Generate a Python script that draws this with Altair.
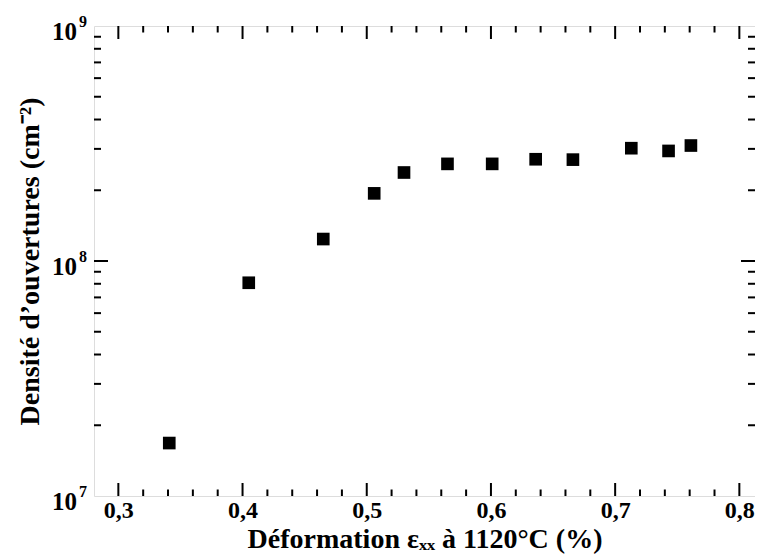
import altair as alt
import pandas as pd

# data
strain = [0.341, 0.405, 0.465, 0.506, 0.530, 0.565, 0.601, 0.636, 0.666, 0.713, 0.743, 0.761]
density = [1.68e7, 8.08e7, 1.24e8, 1.94e8, 2.38e8, 2.59e8, 2.59e8, 2.71e8, 2.70e8, 3.02e8, 2.94e8, 3.10e8]

x_major = [0.3, 0.4, 0.5, 0.6, 0.7, 0.8]
x_minor = [0.32, 0.34, 0.36, 0.38, 0.42, 0.44, 0.46, 0.48, 0.52, 0.54, 0.56, 0.58,
           0.62, 0.64, 0.66, 0.68, 0.72, 0.74, 0.76, 0.78]
y_major = [1e8]
y_minor = [2e7, 3e7, 4e7, 5e7, 6e7, 7e7, 8e7, 9e7, 2e8, 3e8, 4e8, 5e8, 6e8, 7e8, 8e8, 9e8]
y_label_vals = [1e7, 1e8, 1e9]
y_label_exp = ["7", "8", "9"]

W, H = 661, 470
FONT = "Liberation Serif"

xscale = alt.Scale(domain=[0.2804, 0.8126], nice=False, zero=False)
yscale = alt.Scale(type="log", domain=[1e7, 1e9], nice=False)

xaxis = alt.Axis(
    title="Déformation εₓₓ à 1120°C (%)",
    values=x_major,
    labelExpr="replace(format(datum.value, '.1f'), '.', ',')",
    ticks=False, domain=False, grid=False,
    labelFont=FONT, labelFontSize=24, labelFontWeight="bold", labelColor="black",
    labelPadding=2,
    titleFont=FONT, titleFontSize=28, titleFontWeight="bold", titleColor="black",
    titlePadding=3,
)
yaxis = alt.Axis(
    title="Densité d’ouvertures (cm⁻²)",
    labels=False, ticks=False, domain=False, grid=False,
    titleFont=FONT, titleFontSize=28, titleFontWeight="bold", titleColor="black",
    titlePadding=50,
)

pts = pd.DataFrame({"x": strain, "y": density})
points = alt.Chart(pts).mark_square(size=160, color="black", opacity=1, filled=True).encode(
    x=alt.X("x:Q", scale=xscale, axis=xaxis),
    y=alt.Y("y:Q", scale=yscale, axis=yaxis),
)

def xticks(vals, length):
    d = pd.DataFrame({"x": vals})
    bottom = alt.Chart(d).mark_rule(color="black", strokeWidth=2).encode(
        x=alt.X("x:Q", scale=xscale, axis=xaxis),
        y=alt.value(H), y2=alt.value(H - length))
    top = alt.Chart(d).mark_rule(color="black", strokeWidth=2).encode(
        x=alt.X("x:Q", scale=xscale, axis=xaxis),
        y=alt.value(0), y2=alt.value(length))
    return [bottom, top]

def yticks(vals, length):
    d = pd.DataFrame({"y": vals})
    left = alt.Chart(d).mark_rule(color="black", strokeWidth=2).encode(
        y=alt.Y("y:Q", scale=yscale, axis=yaxis),
        x=alt.value(0), x2=alt.value(length))
    right = alt.Chart(d).mark_rule(color="black", strokeWidth=2).encode(
        y=alt.Y("y:Q", scale=yscale, axis=yaxis),
        x=alt.value(W), x2=alt.value(W - length))
    return [left, right]

lab = pd.DataFrame({"y": y_label_vals, "e": y_label_exp})
ten = alt.Chart(lab).mark_text(
    font=FONT, fontSize=25, fontWeight="bold", color="black", align="right", baseline="middle", dy=6
).encode(y=alt.Y("y:Q", scale=yscale, axis=yaxis), x=alt.value(-17), text=alt.value("10"))
expo = alt.Chart(lab).mark_text(
    font=FONT, fontSize=16, fontWeight="bold", color="black", align="left", baseline="middle", dy=-4
).encode(y=alt.Y("y:Q", scale=yscale, axis=yaxis), x=alt.value(-15), text="e:N")

layers = [points] + xticks(x_major, 13) + xticks(x_minor, 6.5) + yticks(y_major, 14) + yticks(y_minor, 7) + [ten, expo]

chart = alt.layer(*layers).properties(
    width=W, height=H,
    autosize=alt.AutoSizeParams(type="none"),
    padding={"left": 86, "top": 18, "right": 0, "bottom": 64},
).configure_view(stroke="black", strokeWidth=2.5).configure(background="white")

chart.save("out.html", embed_options={"renderer": "svg", "actions": False})
